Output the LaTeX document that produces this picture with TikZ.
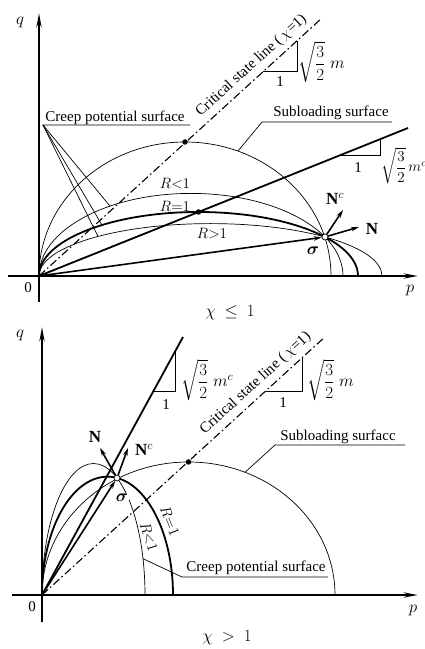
\RequirePackage{fix-cm}
\documentclass[tikz,border=0pt]{standalone}
\usepackage{amsmath}
\usepackage{amssymb}
\usepackage{fontspec}
\setmainfont{Liberation Serif}
\usetikzlibrary{arrows.meta}

\begin{document}
\begin{tikzpicture}[x=1pt,y=1pt,
	axis/.style={line width=2.2pt,-{Stealth[length=14pt,width=5pt]}},
	surf/.style={line width=0.7pt},
	thicksurf/.style={line width=1.8pt},
	csl/.style={line width=1.1pt,dash pattern=on 8pt off 3pt on 1.5pt off 3pt},
	vec/.style={line width=1.6pt,-{Stealth[length=8pt,width=4.5pt]}},
	lbl/.style={font=\fontsize{15}{17}\selectfont,inner sep=1pt},
	big/.style={font=\fontsize{17}{19}\selectfont,inner sep=1pt},
	stress/.style={circle,draw,fill=white,inner sep=0pt,minimum size=6pt,line width=0.7pt},
	dot/.style={circle,fill,inner sep=0pt,minimum size=5.5pt}]
	\useasboundingbox (0,0) rectangle (425,649);

	\begin{scope}[shift={(39,373)}]
		\coordinate (O1) at (0,0);
		\draw[axis] (-31,0) -- (379,0);
		\draw[axis] (0,-26) -- (0,263);
		\node[big] (q1) at (-19,254) {$q$};
		\node[big] (p1) at (371,-14) {$p$};
		\node[lbl] (zero1) at (-11,-12) {0};
		\node[big] (case1) at (191,-37) {$\chi\ \le\ 1$};
		\draw[csl] (O1) -- (283,258) node[lbl,pos=0.78,sloped,above=4pt] (cslabel1) {Critical state line (\,$\chi$=1)};
		\draw[surf] (224,204.3) -- (258,204.3) -- (258,235.3);
		\node[lbl] (one1) at (241,194) {1};
		\node[big,anchor=west] (m1) at (258,214) {$\sqrt{\dfrac{3}{2}}\;m$};
		\draw[thicksurf] (O1) -- (369,148);
		\draw[surf] (300,120.3) -- (341,120.3) -- (341,136.7);
		\node[lbl] (one1c) at (319,108) {1};
		\node[lbl,anchor=west,inner sep=0pt] (mc1) at (342,110) {$\sqrt{\dfrac{3}{2}}\,m^c$};
		\draw[surf] (O1) arc[start angle=180,end angle=0,x radius=146,y radius=134];
		\draw[surf] (O1) arc[start angle=180,end angle=0,x radius=152,y radius=82.6];
		\draw[thicksurf] (O1) arc[start angle=180,end angle=0,x radius=159.5,y radius=64];
		\draw[surf] (O1) arc[start angle=180,end angle=0,x radius=171.5,y radius=52.4];
		\node[dot] (peak1) at (146,134) {};
		\node[dot] (peakc1) at (159.5,64) {};
		\node[lbl] (rlt1) at (136,92) {$R{<}1$};
		\node[lbl] (req1) at (136,70) {$R{=}1$};
		\node[lbl] (rgt1) at (173,42) {$R{>}1$};
		\node[stress] (s1) at (286,39) {};
		\coordinate (nc1) at (304,66);
		\coordinate (n1) at (320,49);
		\draw[vec] (O1) -- (s1);
		\draw[vec] (s1) -- (nc1);
		\draw[vec] (s1) -- (n1);
		\node[big] (Nc1) at (296,77) {$\mathbf{N}^c$};
		\node[big] (N1) at (333,47) {$\mathbf{N}$};
		\node[big] (sig1) at (274,25) {$\boldsymbol{\sigma}$};
		\node[lbl] (creep1) at (76,158) {Creep potential surface};
		\coordinate (u1) at (4,151);
		\coordinate (u1e) at (151,151);
		\coordinate (lt1) at (71,69.9);
		\coordinate (eq1) at (63,51);
		\coordinate (gt1) at (59,39.5);
		\draw[surf] (u1e) -- (u1) -- (lt1);
		\draw[surf] (u1) -- (eq1);
		\draw[surf] (u1) -- (gt1);
		\node[lbl] (sub1) at (292,163) {Subloading surface};
		\coordinate (v1) at (223,154);
		\coordinate (v1e) at (353,154);
		\coordinate (sp1) at (199,125);
		\draw[surf] (v1e) -- (v1) -- (sp1);
	\end{scope}

	\begin{scope}[shift={(42,54)}]
		\coordinate (O2) at (0,0);
		\draw[axis] (-30,0) -- (376,0);
		\draw[axis] (0,-27) -- (0,268);
		\node[big] (q2) at (-22,260) {$q$};
		\node[big] (p2) at (371,-15) {$p$};
		\node[lbl] (zero2) at (-10,-12) {0};
		\node[big] (case2) at (185,-43) {$\chi\ >\ 1$};
		\draw[csl] (O2) -- (281,256.3) node[lbl,pos=0.79,sloped,above=4pt] (cslabel2) {Critical state line (\,$\chi$=1)};
		\draw[surf] (223.7,204) -- (260,204) -- (260,237.1);
		\node[lbl] (one2) at (241,192) {1};
		\node[big,anchor=west] (m2) at (264,215) {$\sqrt{\dfrac{3}{2}}\;m$};
		\draw[thicksurf] (O2) -- (141,258);
		\draw[surf] (111.5,204) -- (133,204) -- (133,243.4);
		\node[lbl] (one2c) at (124,190) {1};
		\node[big,anchor=west] (mc2) at (138,215) {$\sqrt{\dfrac{3}{2}}\;m^c$};
		\draw[surf] (O2) arc[start angle=180,end angle=0,x radius=146.5,y radius=133];
		\draw[surf] (O2) arc[start angle=180,end angle=0,x radius=51.5,y radius=131.5];
		\draw[thicksurf] (O2) arc[start angle=180,end angle=0,x radius=65.5,y radius=118.3];
		\node[dot] (peak2) at (146.5,133) {};
		\node[lbl,rotate=-72] (rlt2) at (107,58) {$R{<}1$};
		\node[lbl,rotate=-68] (req2) at (128,74) {$R{=}1$};
		\node[big,fill=white] (sig2) at (80,97) {$\boldsymbol{\sigma}$};
		\node[stress] (s2) at (75,117) {};
		\coordinate (nc2) at (86,147);
		\coordinate (n2) at (58,147);
		\draw[vec] (O2) -- (s2);
		\draw[vec] (s2) -- (nc2);
		\draw[vec] (s2) -- (n2);
		\node[big,anchor=west] (Nc2) at (92,145) {$\mathbf{N}^c$};
		\node[big] (N2) at (53,158) {$\mathbf{N}$};
		\node[lbl] (creep2) at (214,27) {Creep potential surface};
		\coordinate (u2) at (140,18);
		\coordinate (u2e) at (286,18);
		\coordinate (lt2) at (101,36.3);
		\draw[surf] (u2e) -- (u2) -- (lt2);
		\node[lbl] (sub2) at (296,158) {Subloading surfacc};
		\coordinate (v2) at (233,150);
		\coordinate (v2e) at (363,150);
		\coordinate (sp2) at (203,122.7);
		\draw[surf] (v2e) -- (v2) -- (sp2);
	\end{scope}
\end{tikzpicture}
\end{document}
